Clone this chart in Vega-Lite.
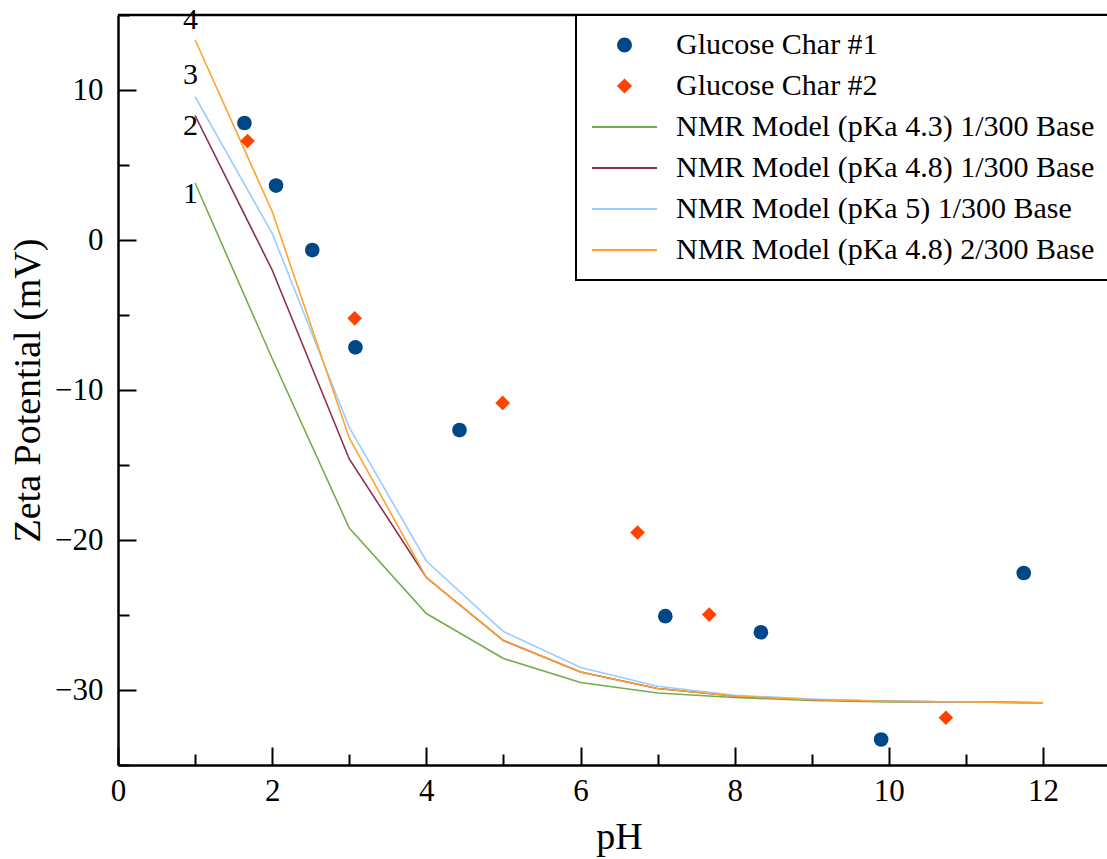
{
  "$schema": "https://vega.github.io/schema/vega-lite/v6.json",
  "width": 989,
  "height": 750,
  "autosize": {"type": "none"},
  "padding": {"left": 118, "top": 15, "right": 0, "bottom": 94},
  "background": "white",
  "config": {
    "view": {"stroke": null},
    "font": "Liberation Serif",
    "axis": {
      "grid": false,
      "domainColor": "black",
      "domainWidth": 2.5,
      "tickColor": "black",
      "tickWidth": 2,
      "labelColor": "black",
      "labelFont": "Liberation Serif",
      "labelFontSize": 31,
      "labelFlush": false,
      "titleFont": "Liberation Serif",
      "titleFontSize": 38,
      "titleFontWeight": "normal",
      "titleColor": "black"
    }
  },
  "resolve": {"axis": {"x": "independent", "y": "independent"}},
  "datasets": {
    "pts": [
      {"series": "Glucose Char #1", "pH": 1.64, "zeta": 7.8},
      {"series": "Glucose Char #1", "pH": 2.05, "zeta": 3.63},
      {"series": "Glucose Char #1", "pH": 2.52, "zeta": -0.67},
      {"series": "Glucose Char #1", "pH": 3.08, "zeta": -7.16},
      {"series": "Glucose Char #1", "pH": 4.43, "zeta": -12.67},
      {"series": "Glucose Char #1", "pH": 7.1, "zeta": -25.08},
      {"series": "Glucose Char #1", "pH": 8.34, "zeta": -26.15},
      {"series": "Glucose Char #1", "pH": 9.9, "zeta": -33.3},
      {"series": "Glucose Char #1", "pH": 11.75, "zeta": -22.2},
      {"series": "Glucose Char #2", "pH": 1.68, "zeta": 6.6},
      {"series": "Glucose Char #2", "pH": 3.07, "zeta": -5.22},
      {"series": "Glucose Char #2", "pH": 4.99, "zeta": -10.86},
      {"series": "Glucose Char #2", "pH": 6.74, "zeta": -19.5},
      {"series": "Glucose Char #2", "pH": 7.67, "zeta": -24.97},
      {"series": "Glucose Char #2", "pH": 10.74, "zeta": -31.85}
    ],
    "model": [
      {"series": "NMR Model (pKa 4.3) 1/300 Base", "pH": 1, "zeta": 3.8},
      {"series": "NMR Model (pKa 4.3) 1/300 Base", "pH": 2, "zeta": -7.9},
      {"series": "NMR Model (pKa 4.3) 1/300 Base", "pH": 3, "zeta": -19.2},
      {"series": "NMR Model (pKa 4.3) 1/300 Base", "pH": 4, "zeta": -24.9},
      {"series": "NMR Model (pKa 4.3) 1/300 Base", "pH": 5, "zeta": -27.9},
      {"series": "NMR Model (pKa 4.3) 1/300 Base", "pH": 6, "zeta": -29.5},
      {"series": "NMR Model (pKa 4.3) 1/300 Base", "pH": 7, "zeta": -30.2},
      {"series": "NMR Model (pKa 4.3) 1/300 Base", "pH": 8, "zeta": -30.5},
      {"series": "NMR Model (pKa 4.3) 1/300 Base", "pH": 9, "zeta": -30.7},
      {"series": "NMR Model (pKa 4.3) 1/300 Base", "pH": 10, "zeta": -30.8},
      {"series": "NMR Model (pKa 4.3) 1/300 Base", "pH": 11, "zeta": -30.8},
      {"series": "NMR Model (pKa 4.3) 1/300 Base", "pH": 12, "zeta": -30.85},
      {"series": "NMR Model (pKa 4.8) 1/300 Base", "pH": 1, "zeta": 8.3},
      {"series": "NMR Model (pKa 4.8) 1/300 Base", "pH": 2, "zeta": -2.0},
      {"series": "NMR Model (pKa 4.8) 1/300 Base", "pH": 3, "zeta": -14.6},
      {"series": "NMR Model (pKa 4.8) 1/300 Base", "pH": 4, "zeta": -22.5},
      {"series": "NMR Model (pKa 4.8) 1/300 Base", "pH": 5, "zeta": -26.7},
      {"series": "NMR Model (pKa 4.8) 1/300 Base", "pH": 6, "zeta": -28.8},
      {"series": "NMR Model (pKa 4.8) 1/300 Base", "pH": 7, "zeta": -29.9},
      {"series": "NMR Model (pKa 4.8) 1/300 Base", "pH": 8, "zeta": -30.4},
      {"series": "NMR Model (pKa 4.8) 1/300 Base", "pH": 9, "zeta": -30.65},
      {"series": "NMR Model (pKa 4.8) 1/300 Base", "pH": 10, "zeta": -30.75},
      {"series": "NMR Model (pKa 4.8) 1/300 Base", "pH": 11, "zeta": -30.8},
      {"series": "NMR Model (pKa 4.8) 1/300 Base", "pH": 12, "zeta": -30.85},
      {"series": "NMR Model (pKa 5) 1/300 Base", "pH": 1, "zeta": 9.55},
      {"series": "NMR Model (pKa 5) 1/300 Base", "pH": 2, "zeta": 0.45},
      {"series": "NMR Model (pKa 5) 1/300 Base", "pH": 3, "zeta": -12.5},
      {"series": "NMR Model (pKa 5) 1/300 Base", "pH": 4, "zeta": -21.4},
      {"series": "NMR Model (pKa 5) 1/300 Base", "pH": 5, "zeta": -26.1},
      {"series": "NMR Model (pKa 5) 1/300 Base", "pH": 6, "zeta": -28.5},
      {"series": "NMR Model (pKa 5) 1/300 Base", "pH": 7, "zeta": -29.75},
      {"series": "NMR Model (pKa 5) 1/300 Base", "pH": 8, "zeta": -30.35},
      {"series": "NMR Model (pKa 5) 1/300 Base", "pH": 9, "zeta": -30.6},
      {"series": "NMR Model (pKa 5) 1/300 Base", "pH": 10, "zeta": -30.75},
      {"series": "NMR Model (pKa 5) 1/300 Base", "pH": 11, "zeta": -30.8},
      {"series": "NMR Model (pKa 5) 1/300 Base", "pH": 12, "zeta": -30.85},
      {"series": "NMR Model (pKa 4.8) 2/300 Base", "pH": 1, "zeta": 13.35},
      {"series": "NMR Model (pKa 4.8) 2/300 Base", "pH": 2, "zeta": 1.9},
      {"series": "NMR Model (pKa 4.8) 2/300 Base", "pH": 3, "zeta": -13.2},
      {"series": "NMR Model (pKa 4.8) 2/300 Base", "pH": 4, "zeta": -22.5},
      {"series": "NMR Model (pKa 4.8) 2/300 Base", "pH": 5, "zeta": -26.7},
      {"series": "NMR Model (pKa 4.8) 2/300 Base", "pH": 6, "zeta": -28.8},
      {"series": "NMR Model (pKa 4.8) 2/300 Base", "pH": 7, "zeta": -29.9},
      {"series": "NMR Model (pKa 4.8) 2/300 Base", "pH": 8, "zeta": -30.4},
      {"series": "NMR Model (pKa 4.8) 2/300 Base", "pH": 9, "zeta": -30.65},
      {"series": "NMR Model (pKa 4.8) 2/300 Base", "pH": 10, "zeta": -30.75},
      {"series": "NMR Model (pKa 4.8) 2/300 Base", "pH": 11, "zeta": -30.8},
      {"series": "NMR Model (pKa 4.8) 2/300 Base", "pH": 12, "zeta": -30.85}
    ],
    "labels": [
      {"label": "1", "pH": 0.94, "zeta": 3.1},
      {"label": "2", "pH": 0.94, "zeta": 7.58},
      {"label": "3", "pH": 0.94, "zeta": 11.0},
      {"label": "4", "pH": 0.94, "zeta": 14.7}
    ]
  },
  "layer": [
    {
      "data": {"name": "model"},
      "mark": {"type": "line", "strokeWidth": 1.6},
      "encoding": {
        "x": {
          "field": "pH", "type": "quantitative",
          "scale": {"domain": [0, 12.83], "nice": false, "zero": false},
          "axis": {
            "orient": "bottom",
            "title": "pH",
            "format": "d",
            "values": [0, 2, 4, 6, 8, 10, 12],
            "tickSize": -18,
            "labelPadding": 29,
            "titleX": 501,
            "titleY": 83,
            "titleBaseline": "alphabetic"
          }
        },
        "y": {
          "field": "zeta", "type": "quantitative",
          "scale": {"domain": [-35, 15], "nice": false, "zero": false},
          "axis": {
            "orient": "left",
            "title": "Zeta Potential (mV)",
            "format": "d",
            "values": [-30, -20, -10, 0, 10],
            "tickSize": -18,
            "labelPadding": 33,
            "titleX": -79,
            "titleY": 375,
            "titleBaseline": "alphabetic"
          }
        },
        "color": {
          "field": "series", "type": "nominal",
          "scale": {
            "domain": ["Glucose Char #1", "Glucose Char #2", "NMR Model (pKa 4.3) 1/300 Base", "NMR Model (pKa 4.8) 1/300 Base", "NMR Model (pKa 5) 1/300 Base", "NMR Model (pKa 4.8) 2/300 Base"],
            "range": ["#00478a", "#ff4200", "#74ad4a", "#8b2f50", "#99ccff", "#ffa22e"]
          },
          "legend": {
            "title": null,
            "orient": "none",
            "legendX": 458,
            "legendY": 0,
            "columns": 1,
            "clipHeight": 30,
            "padding": 15,
            "rowPadding": 11,
            "labelOffset": 18,
            "labelFont": "Liberation Serif",
            "labelFontSize": 30,
            "labelColor": "black",
            "labelLimit": 700,
            "strokeColor": "black",
            "fillColor": "white",
            "symbolSize": 4225,
            "symbolStrokeWidth": 2,
            "encode": {
              "legend": {"update": {"strokeWidth": {"value": 2}}},
              "symbols": {
                "update": {
                  "shape": {"signal": "datum.value === 'Glucose Char #1' ? 'M-0.2,0A0.2,0.2,0,1,1,0.2,0A0.2,0.2,0,1,1,-0.2,0Z' : (datum.value === 'Glucose Char #2' ? 'M-0.19,0L0,-0.19L0.19,0L0,0.19Z' : 'stroke')"},
                  "fill": {"scale": "color", "field": "value"},
                  "stroke": {"scale": "color", "field": "value"},
                  "opacity": {"value": 1},
                  "fillOpacity": {"value": 1},
                  "strokeOpacity": {"value": 1}
                }
              }
            }
          }
        }
      }
    },
    {
      "data": {"name": "pts"},
      "mark": {"type": "point", "filled": true, "opacity": 1, "strokeWidth": 0, "size": 215},
      "encoding": {
        "x": {
          "field": "pH", "type": "quantitative",
          "axis": {
            "orient": "bottom",
            "title": null,
            "values": [1, 3, 5, 7, 9, 11],
            "labels": false,
            "domain": false,
            "tickSize": -11
          }
        },
        "y": {
          "field": "zeta", "type": "quantitative",
          "axis": {
            "orient": "left",
            "title": null,
            "values": [-35, -25, -15, -5, 5, 15],
            "labels": false,
            "domain": false,
            "tickSize": -11
          }
        },
        "color": {"field": "series", "type": "nominal"},
        "shape": {
          "field": "series", "type": "nominal",
          "scale": {"domain": ["Glucose Char #1", "Glucose Char #2"], "range": ["circle", "diamond"]},
          "legend": null
        }
      }
    },
    {
      "data": {"name": "labels"},
      "mark": {"type": "text", "font": "Liberation Serif", "fontSize": 30, "color": "black", "align": "center", "baseline": "middle"},
      "encoding": {
        "x": {"field": "pH", "type": "quantitative", "axis": null},
        "y": {"field": "zeta", "type": "quantitative", "axis": null},
        "text": {"field": "label"}
      }
    },
    {
      "data": {"values": [{}]},
      "mark": {"type": "rule", "color": "black", "strokeWidth": 2.5},
      "encoding": {"y": {"datum": 15, "axis": null}}
    }
  ]
}
